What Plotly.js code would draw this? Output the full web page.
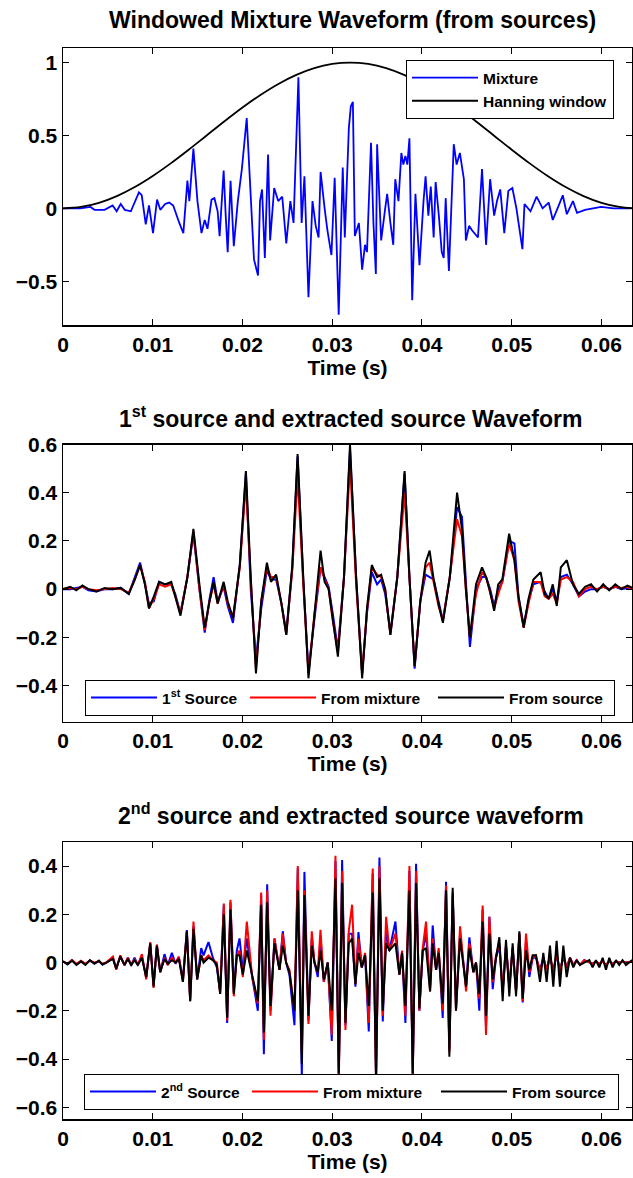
<!DOCTYPE html>
<html>
<head>
<meta charset="utf-8">
<script src="https://cdn.plot.ly/plotly-3.0.1.min.js"></script>
<style>html,body{margin:0;padding:0;background:#fff;overflow:hidden}#chart{width:633px;height:1178px}</style>
</head>
<body>
<div id="chart"></div>
<script>
// ---------- Data ----------
const xTickVals = [0, 0.01, 0.02, 0.03, 0.04, 0.05, 0.06];
const xTickText = ['0', '0.01', '0.02', '0.03', '0.04', '0.05', '0.06'];

// Panel 1: windowed mixture
const time1 = [0,0.00193,0.00306,0.00351,0.00463,0.00553,0.00598,0.00643,0.00688,0.00756,0.00846,0.00877,0.00922,0.00958,0.01003,0.01048,0.01084,0.01138,0.01183,0.01228,0.01296,0.01341,0.01386,0.01408,0.01453,0.01498,0.01543,0.01579,0.01610,0.01655,0.01687,0.01723,0.01745,0.01790,0.01813,0.01835,0.01867,0.01903,0.01948,0.01993,0.02047,0.02092,0.02128,0.02173,0.02195,0.02218,0.02249,0.02285,0.02308,0.02353,0.02398,0.02443,0.02488,0.02533,0.02569,0.02623,0.02659,0.02690,0.02735,0.02780,0.02816,0.02848,0.02870,0.02915,0.02946,0.02991,0.03027,0.03072,0.03117,0.03140,0.03185,0.03207,0.03230,0.03252,0.03297,0.03333,0.03365,0.03387,0.03432,0.03459,0.03486,0.03500,0.03545,0.03590,0.03612,0.03648,0.03680,0.03702,0.03738,0.03770,0.03792,0.03815,0.03837,0.03860,0.03891,0.03927,0.03972,0.04017,0.04040,0.04071,0.04098,0.04130,0.04152,0.04188,0.04220,0.04242,0.04264,0.04300,0.04354,0.04386,0.04422,0.04467,0.04489,0.04525,0.04557,0.04624,0.04669,0.04714,0.04759,0.04804,0.04836,0.04872,0.04917,0.04962,0.05007,0.05052,0.05119,0.05142,0.05209,0.05277,0.05344,0.05412,0.05457,0.05524,0.05569,0.05614,0.05682,0.05727,0.05816,0.05906,0.05996,0.06131,0.06334];
const mixture = [0,0.0,0.01,-0.01,-0.01,0.02,-0.02,0.03,-0.01,-0.02,0.11,0.09,-0.11,0.02,-0.17,0.06,-0.01,0.03,0.04,0.02,-0.10,-0.17,0.19,0.05,0.41,0.05,-0.17,-0.08,-0.14,0.06,0.07,-0.02,-0.19,0.26,-0.05,-0.30,0.19,-0.26,0.05,0.27,0.62,0.05,-0.35,-0.46,0.05,0.13,-0.34,0.37,-0.22,0.14,0.05,0.08,-0.24,0.05,-0.10,0.90,-0.10,0.22,-0.61,0.05,-0.12,-0.20,0.25,0.0,-0.15,-0.32,0.21,-0.73,0.28,-0.20,0.55,0.70,0.73,-0.19,-0.10,-0.42,-0.25,-0.30,0.45,-0.10,-0.45,0.44,-0.22,0.0,0.10,-0.10,-0.25,0.20,0.05,0.38,0.30,0.36,0.30,0.48,-0.63,0.10,-0.39,0.05,0.22,-0.05,0.15,-0.20,0.18,-0.05,-0.30,-0.34,0.07,-0.43,0.44,0.30,0.38,0.20,-0.22,-0.12,-0.15,-0.20,0.27,-0.25,0.20,-0.05,0.05,0.13,-0.17,0.12,0.14,0.0,-0.28,0.03,-0.02,0.08,0.0,0.04,-0.08,0.02,0.09,-0.04,0.05,-0.03,-0.01,0.0,0.01,0.0,0.0];

const hannTime = [0,0.002,0.004,0.006,0.008,0.010,0.012,0.014,0.016,0.018,0.020,0.022,0.024,0.026,0.028,0.030,0.032,0.034,0.036,0.038,0.040,0.042,0.044,0.046,0.048,0.050,0.052,0.054,0.056,0.058,0.060,0.062,0.064];
const hannWin = [0,0.0096,0.0381,0.0843,0.1464,0.2222,0.3087,0.4025,0.5,0.5975,0.6913,0.7778,0.8536,0.9157,0.9619,0.9904,1,0.9904,0.9619,0.9157,0.8536,0.7778,0.6913,0.5975,0.5,0.4025,0.3087,0.2222,0.1464,0.0843,0.0381,0.0096,0];

// Panel 2: 1st source
const time2 = [0,0.00081,0.00148,0.00216,0.00283,0.00373,0.00463,0.00553,0.00643,0.00733,0.00801,0.00859,0.00913,0.00958,0.01012,0.01071,0.01138,0.01206,0.01251,0.01309,0.01386,0.01453,0.01520,0.01579,0.01633,0.01678,0.01723,0.01790,0.01835,0.01894,0.01970,0.02038,0.02092,0.02150,0.02209,0.02272,0.02317,0.02375,0.02434,0.02488,0.02555,0.02614,0.02677,0.02735,0.02803,0.02870,0.02915,0.02960,0.03005,0.03063,0.03131,0.03198,0.03266,0.03333,0.03387,0.03441,0.03500,0.03545,0.03590,0.03648,0.03725,0.03806,0.03860,0.03918,0.03981,0.04040,0.04085,0.04130,0.04184,0.04233,0.04310,0.04391,0.04445,0.04489,0.04534,0.04602,0.04669,0.04714,0.04759,0.04804,0.04849,0.04895,0.04971,0.05030,0.05075,0.05133,0.05187,0.05241,0.05322,0.05367,0.05412,0.05457,0.05502,0.05547,0.05614,0.05682,0.05749,0.05817,0.05884,0.05951,0.06019,0.06086,0.06154,0.06221,0.06289,0.06347];
const src1FromSrc = [0,0.01,-0.005,0.015,0.0,-0.01,0.005,0.0,0.005,-0.02,0.04,0.10,0.02,-0.08,-0.03,0.03,0.02,0.03,-0.03,-0.11,0.05,0.25,0.02,-0.16,-0.05,0.03,-0.06,0.03,-0.05,-0.12,0.10,0.49,0.05,-0.35,-0.05,0.11,0.03,0.06,-0.06,-0.19,0.10,0.56,0.05,-0.37,-0.10,0.16,0.03,0.0,-0.12,-0.28,0.05,0.60,0.05,-0.37,-0.08,0.10,0.05,0.06,0.0,-0.19,0.05,0.49,0.05,-0.32,-0.05,0.11,0.16,0.04,-0.06,-0.14,0.05,0.40,0.25,0.0,-0.20,0.02,0.09,0.05,-0.01,-0.09,0.02,0.04,0.23,0.12,-0.03,-0.16,-0.04,0.04,0.07,-0.02,-0.04,0.02,-0.07,0.09,0.12,0.02,-0.02,0.01,0.02,-0.01,0.02,-0.005,0.02,0.0,0.015,0.005];
const src1FromMix = [0,0.005,0.0,0.01,0.0,-0.005,0.0,0.005,0.0,-0.015,0.04,0.10,0.03,-0.08,-0.04,0.02,0.01,0.02,-0.03,-0.10,0.05,0.24,0.0,-0.17,-0.05,0.02,-0.06,0.02,-0.06,-0.12,0.09,0.44,0.04,-0.33,-0.05,0.09,0.05,0.05,-0.06,-0.19,0.08,0.47,0.02,-0.35,-0.10,0.09,0.04,0.0,-0.13,-0.26,0.05,0.52,0.02,-0.35,-0.09,0.09,0.06,0.05,0.0,-0.19,0.05,0.40,0.05,-0.32,-0.05,0.09,0.11,0.03,-0.07,-0.13,0.05,0.29,0.22,0.0,-0.20,-0.02,0.07,0.05,-0.02,-0.08,-0.02,0.03,0.19,0.12,-0.05,-0.16,-0.06,0.03,0.03,-0.03,-0.04,-0.02,-0.06,0.04,0.05,0.03,-0.03,0.0,0.01,0.0,0.01,0.0,0.01,0.005,0.01,0.0];
const src1 = [0,0.0,0.005,0.01,-0.005,-0.01,0.0,0.0,0.005,-0.02,0.05,0.11,0.02,-0.06,-0.05,0.03,0.02,0.02,-0.02,-0.10,0.05,0.23,0.0,-0.18,-0.04,0.05,-0.05,0.01,-0.07,-0.14,0.10,0.48,0.0,-0.29,-0.08,0.08,0.04,0.04,-0.06,-0.18,0.09,0.55,0.04,-0.34,-0.12,0.09,0.05,0.01,-0.10,-0.25,0.05,0.58,0.05,-0.35,-0.10,0.07,0.02,0.04,-0.02,-0.18,0.05,0.48,0.05,-0.33,-0.05,0.06,0.05,0.04,-0.05,-0.13,0.05,0.34,0.30,0.02,-0.24,0.0,0.05,0.05,0.0,-0.07,0.0,0.03,0.20,0.19,-0.03,-0.15,-0.05,0.02,0.03,-0.01,-0.04,0.0,-0.05,0.05,0.06,0.02,-0.03,-0.01,0.0,0.0,0.01,0.0,0.01,0.0,0.005,0.0];

// Panel 3: 2nd source
const time3 = [0,0.00050,0.00100,0.00150,0.00200,0.00250,0.00300,0.00350,0.00400,0.00440,0.00482,0.00556,0.00593,0.00638,0.00686,0.00723,0.00760,0.00797,0.00834,0.00879,0.00927,0.00972,0.01009,0.01046,0.01083,0.01131,0.01168,0.01213,0.01254,0.01291,0.01336,0.01380,0.01417,0.01454,0.01495,0.01540,0.01566,0.01621,0.01670,0.01714,0.01751,0.01792,0.01829,0.01866,0.01903,0.01937,0.01967,0.02004,0.02048,0.02108,0.02171,0.02208,0.02238,0.02275,0.02312,0.02356,0.02412,0.02449,0.02486,0.02523,0.02579,0.02616,0.02661,0.02690,0.02735,0.02772,0.02802,0.02839,0.02869,0.02906,0.02950,0.02995,0.03036,0.03073,0.03110,0.03147,0.03184,0.03221,0.03258,0.03292,0.03329,0.03366,0.03407,0.03451,0.03488,0.03526,0.03563,0.03600,0.03637,0.03704,0.03748,0.03778,0.03815,0.03860,0.03897,0.03934,0.03971,0.04008,0.04045,0.04090,0.04119,0.04157,0.04186,0.04231,0.04268,0.04305,0.04342,0.04379,0.04424,0.04461,0.04491,0.04528,0.04572,0.04602,0.04639,0.04676,0.04713,0.04751,0.04788,0.04825,0.04862,0.04899,0.04936,0.04973,0.05010,0.05048,0.05085,0.05122,0.05159,0.05196,0.05233,0.05270,0.05315,0.05352,0.05389,0.05426,0.05463,0.05500,0.05537,0.05575,0.05612,0.05649,0.05686,0.05723,0.05760,0.05808,0.05864,0.05901,0.05938,0.05976,0.06013,0.06050,0.06087,0.06124,0.06161,0.06198,0.06235,0.06273,0.06343];
const src2FromSrc = [0.005,-0.008,0.008,-0.01,0.005,-0.01,0.01,-0.005,0.008,-0.008,0.0,0.015,-0.025,0.025,-0.01,0.015,-0.01,0.01,-0.01,0.02,-0.06,0.08,-0.10,0.07,-0.04,0.015,-0.005,0.01,0.0,0.015,-0.08,0.13,-0.16,0.14,-0.07,0.03,0.0,0.02,0.01,-0.01,-0.13,0.20,-0.23,0.22,-0.13,0.03,0.03,-0.05,0.05,-0.05,-0.16,0.24,-0.29,0.25,-0.18,0.08,-0.03,0.07,0.0,-0.04,-0.20,0.30,-0.42,0.28,-0.22,0.07,0.0,-0.04,0.05,-0.07,0.0,-0.20,0.35,-0.46,0.33,-0.25,0.08,0.10,-0.09,0.04,-0.02,0.03,-0.18,0.29,-0.47,0.35,-0.20,0.08,0.05,0.08,-0.05,0.04,-0.18,0.30,-0.46,0.33,-0.19,0.05,0.06,-0.12,0.08,-0.03,0.04,-0.17,0.30,-0.39,0.31,-0.20,0.10,-0.01,-0.10,0.06,-0.04,0.0,-0.13,0.17,-0.22,0.12,-0.07,0.02,0.105,-0.16,0.094,-0.14,0.08,-0.14,0.13,-0.15,0.05,-0.03,0.03,0.03,-0.08,0.04,-0.08,0.07,-0.10,0.09,-0.10,0.07,-0.06,0.02,-0.02,0.01,-0.01,0.0,0.01,-0.02,0.01,-0.02,0.02,-0.03,0.02,-0.02,0.01,-0.01,0.01,-0.01,0.01];
const src2FromMix = [0.005,-0.005,0.01,-0.005,0.008,-0.005,0.008,0.0,0.005,-0.005,0.0,0.025,-0.03,0.03,-0.01,0.02,-0.01,0.015,-0.01,0.035,-0.07,0.085,-0.105,0.075,-0.04,0.02,-0.01,0.02,0.0,0.025,-0.08,0.13,-0.16,0.17,-0.07,0.03,0.01,0.03,0.01,0.0,-0.13,0.245,-0.24,0.26,-0.14,0.03,0.05,-0.06,0.17,-0.06,-0.17,0.29,-0.32,0.30,-0.22,0.10,-0.03,0.12,0.0,-0.03,-0.20,0.40,-0.38,0.30,-0.255,0.13,0.0,-0.04,0.136,-0.08,0.0,-0.30,0.443,-0.50,0.38,-0.28,0.13,0.24,-0.09,0.10,-0.02,0.04,-0.25,0.39,-0.50,0.40,-0.22,0.19,0.05,0.12,-0.05,0.05,-0.22,0.40,-0.48,0.38,-0.20,0.06,0.17,-0.12,0.10,-0.03,0.06,-0.20,0.32,-0.37,0.28,-0.20,0.15,-0.01,-0.12,0.08,-0.04,0.0,-0.15,0.237,-0.30,0.19,-0.08,0.03,0.08,-0.12,0.07,-0.10,0.06,-0.12,0.12,-0.16,0.12,-0.04,0.02,0.03,-0.04,0.02,-0.03,0.03,-0.04,0.04,-0.04,0.03,-0.02,0.02,-0.01,0.01,-0.01,0.01,0.0,-0.005,0.005,-0.005,0.005,-0.01,0.005,-0.005,0.005,0.0,0.005,0.0,0.005];
const src2 = [0.005,-0.005,0.01,-0.008,0.005,-0.005,0.008,-0.003,0.005,-0.008,0.0,0.02,-0.025,0.025,-0.01,0.02,-0.01,0.02,-0.01,0.025,-0.06,0.08,-0.095,0.07,-0.04,0.035,-0.01,0.04,-0.005,0.02,-0.07,0.135,-0.155,0.15,-0.07,0.06,0.03,0.085,0.02,-0.02,-0.12,0.24,-0.25,0.25,-0.12,0.05,0.10,-0.03,0.10,-0.06,-0.20,0.28,-0.38,0.325,-0.20,0.10,-0.03,0.13,0.0,-0.05,-0.26,0.39,-0.47,0.376,-0.24,0.10,0.0,-0.06,0.10,-0.08,0.0,-0.325,0.42,-0.47,0.425,-0.26,0.12,0.12,-0.10,0.126,-0.02,0.03,-0.286,0.37,-0.50,0.436,-0.244,0.13,0.05,0.17,-0.05,0.04,-0.25,0.38,-0.47,0.41,-0.20,0.05,0.12,-0.10,0.154,-0.03,0.05,-0.23,0.335,-0.36,0.29,-0.19,0.12,-0.01,-0.10,0.105,-0.04,0.0,-0.20,0.22,-0.27,0.19,-0.11,0.02,0.07,-0.12,0.07,-0.10,0.06,-0.12,0.12,-0.165,0.09,-0.06,0.02,0.02,-0.03,0.02,-0.03,0.02,-0.03,0.03,-0.03,0.02,-0.02,0.02,-0.01,0.01,-0.01,0.01,0.0,-0.005,0.005,-0.005,0.005,-0.01,0.005,-0.005,0.005,0.0,0.005,0.0,0.005];

// ---------- Styling ----------
const FONT = 'Liberation Sans, Arial, Helvetica, sans-serif';
const W = 633, H = 1178;
const px = v => v / W;
const py = v => 1 - v / H;

const tickFont = {family: FONT, size: 21, color: '#000', weight: 'bold'};
const axisBase = {
  showline: true, linecolor: '#000', linewidth: 1.5, mirror: 'allticks',
  ticks: 'inside', ticklen: 6, tickwidth: 1, tickcolor: '#000',
  showgrid: false, zeroline: false, tickfont: tickFont, fixedrange: true
};
const xBase = Object.assign({}, axisBase, {
  range: [0, 0.0634], tickmode: 'array', tickvals: xTickVals, ticktext: xTickText,
  domain: [px(63), px(632)],
  title: {text: 'Time (s)', font: {family: FONT, size: 21, color: '#000', weight: 'bold'}, standoff: 5}
});

const traces = [
  {x: time1, y: mixture, type: 'scatter', mode: 'lines', name: 'Mixture',
   line: {color: '#0000ff', width: 1.8}, xaxis: 'x', yaxis: 'y', legend: 'legend'},
  {x: hannTime, y: hannWin, type: 'scatter', mode: 'lines', name: 'Hanning window',
   line: {color: '#000000', width: 1.8, shape: 'spline'}, xaxis: 'x', yaxis: 'y', legend: 'legend'},

  {x: time2, y: src1, type: 'scatter', mode: 'lines', name: '1<sup>st</sup> Source',
   line: {color: '#0000ff', width: 2}, xaxis: 'x2', yaxis: 'y2', legend: 'legend2', legendwidth: 78},
  {x: time2, y: src1FromMix, type: 'scatter', mode: 'lines', name: 'From mixture',
   line: {color: '#ff0000', width: 2}, xaxis: 'x2', yaxis: 'y2', legend: 'legend2', legendwidth: 107},
  {x: time2, y: src1FromSrc, type: 'scatter', mode: 'lines', name: 'From source',
   line: {color: '#000000', width: 2}, xaxis: 'x2', yaxis: 'y2', legend: 'legend2', legendwidth: 100},

  {x: time3, y: src2, type: 'scatter', mode: 'lines', name: '2<sup>nd</sup> Source',
   line: {color: '#0000ff', width: 2}, xaxis: 'x3', yaxis: 'y3', legend: 'legend3', legendwidth: 81},
  {x: time3, y: src2FromMix, type: 'scatter', mode: 'lines', name: 'From mixture',
   line: {color: '#ff0000', width: 2}, xaxis: 'x3', yaxis: 'y3', legend: 'legend3', legendwidth: 108},
  {x: time3, y: src2FromSrc, type: 'scatter', mode: 'lines', name: 'From source',
   line: {color: '#000000', width: 2}, xaxis: 'x3', yaxis: 'y3', legend: 'legend3', legendwidth: 101}
];

const legFont = {family: FONT, size: 15.5, color: '#000', weight: 'bold'};
const titleFont = {family: FONT, size: 23, color: '#000', weight: 'bold'};

const layout = {
  width: W, height: H,
  margin: {l: 0, r: 0, t: 0, b: 0},
  paper_bgcolor: '#fff', plot_bgcolor: '#fff',
  showlegend: true,
  xaxis: Object.assign({}, xBase, {anchor: 'y'}),
  yaxis: Object.assign({}, axisBase, {range: [-0.8, 1.1], tickvals: [-0.5, 0, 0.5, 1], ticktext: ['\u22120.5', '0', '0.5', '1'], tickmode: 'array', domain: [py(325), py(48)], anchor: 'x'}),
  xaxis2: Object.assign({}, xBase, {anchor: 'y2'}),
  yaxis2: Object.assign({}, axisBase, {range: [-0.55, 0.6], tickvals: [-0.4, -0.2, 0, 0.2, 0.4, 0.6], ticktext: ['\u22120.4', '\u22120.2', '0', '0.2', '0.4', '0.6'], tickmode: 'array', domain: [py(721.7), py(444.5)], anchor: 'x2'}),
  xaxis3: Object.assign({}, xBase, {anchor: 'y3'}),
  yaxis3: Object.assign({}, axisBase, {range: [-0.65, 0.5], tickvals: [-0.6, -0.4, -0.2, 0, 0.2, 0.4], ticktext: ['\u22120.6', '\u22120.4', '\u22120.2', '0', '0.2', '0.4'], tickmode: 'array', domain: [py(1119.3), py(842)], anchor: 'x3'}),
  legend: {x: px(406), y: py(60), xanchor: 'left', yanchor: 'top', orientation: 'v',
    bgcolor: '#fff', bordercolor: '#000', borderwidth: 1, font: legFont, itemwidth: 66},
  legend2: {x: px(85), y: py(680), xanchor: 'left', yanchor: 'top', orientation: 'h',
    bgcolor: '#fff', bordercolor: '#000', borderwidth: 1, font: legFont, itemwidth: 66},
  legend3: {x: px(84), y: py(1074), xanchor: 'left', yanchor: 'top', orientation: 'h',
    bgcolor: '#fff', bordercolor: '#000', borderwidth: 1, font: legFont, itemwidth: 66},
  annotations: [
    {text: 'Windowed Mixture Waveform (from sources)', x: px(353), y: py(20), xref: 'paper', yref: 'paper', xanchor: 'center', yanchor: 'middle', showarrow: false, font: titleFont},
    {text: '1<sup>st</sup> source and extracted source Waveform', x: px(351), y: py(417), xref: 'paper', yref: 'paper', xanchor: 'center', yanchor: 'middle', showarrow: false, font: titleFont},
    {text: '2<sup>nd</sup> source and extracted source waveform', x: px(351), y: py(814), xref: 'paper', yref: 'paper', xanchor: 'center', yanchor: 'middle', showarrow: false, font: titleFont}
  ]
};

Plotly.newPlot('chart', traces, layout, {displayModeBar: false, staticPlot: true});
</script>
</body>
</html>
